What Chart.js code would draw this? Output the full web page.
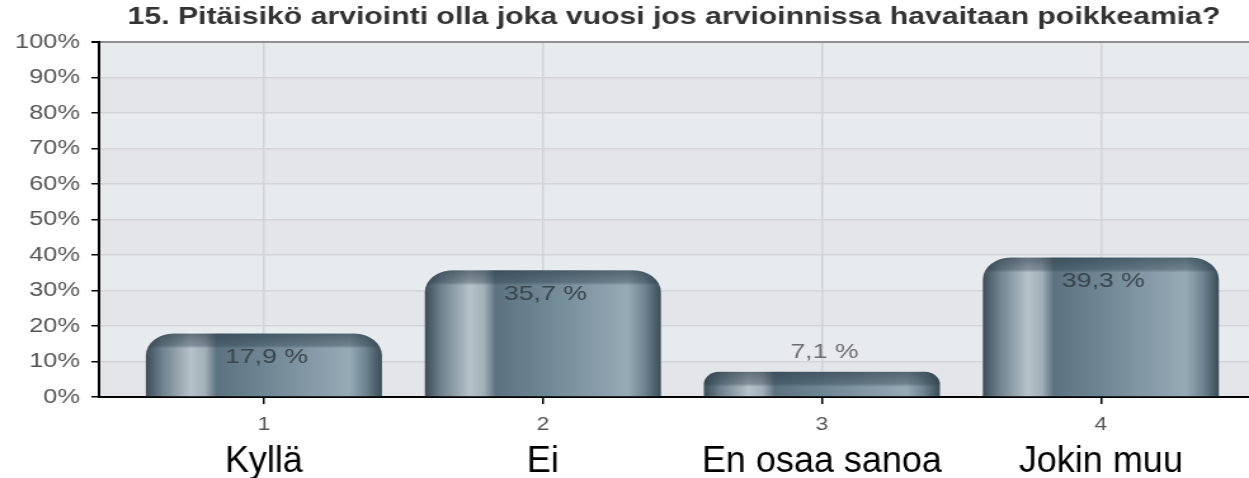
<!DOCTYPE html>
<html>
<head>
<meta charset="utf-8">
<script src="https://cdn.jsdelivr.net/npm/chart.js@4.4.1/dist/chart.umd.min.js"></script>
<style>
html, body { margin: 0; padding: 0; background: #fff; overflow: hidden; }
#wrap { width: 1249px; height: 478px; overflow: hidden; }
#chart { display: block; transform-origin: 0 0; }
</style>
</head>
<body>
<div id="wrap"><canvas id="chart" width="984" height="478"></canvas></div>
<script>
const chartTitle = '15. Pitäisikö arviointi olla joka vuosi jos arvioinnissa havaitaan poikkeamia?'
const categories = ['Kyllä', 'Ei', 'En osaa sanoa', 'Jokin muu']
const tickLabels = ['1', '2', '3', '4']
const values = [17.9, 35.7, 7.1, 39.3]

// the original picture is stretched sideways, so the canvas is too
const stretch = 1249 / 984
const canvas = document.getElementById('chart')
canvas.style.transform = 'scaleX(' + stretch + ')'

const catPct = 0.846
const font = '"Liberation Sans", Arial, sans-serif'

function barFill(context) {
    let chart = context.chart
    let x = chart.scales.x
    if (!chart.chartArea || !x) return '#6d8592'
    let center = x.getPixelForValue(context.dataIndex + 1)
    let half = (x.getPixelForValue(2) - x.getPixelForValue(1)) * catPct / 2
    let g = chart.ctx.createLinearGradient(center - half, 0, center + half, 0)
    g.addColorStop(0, '#3b4d59')
    g.addColorStop(0.07, '#6f828d')
    g.addColorStop(0.19, '#b7c2c9')
    g.addColorStop(0.25, '#a3b0b8')
    g.addColorStop(0.3, '#5c7280')
    g.addColorStop(0.5, '#6e8693')
    g.addColorStop(0.72, '#879ca8')
    g.addColorStop(0.86, '#96abb6')
    g.addColorStop(0.93, '#6f8591')
    g.addColorStop(1, '#3a4c58')
    return g
}

const plotBackground = {
    id: 'plotBackground',
    beforeDraw(chart) {
        let ctx = chart.ctx
        let area = chart.chartArea
        let y = chart.scales.y
        ctx.save()
        for (let v = 0; v < 100; v += 10) {
            let top = y.getPixelForValue(v + 10)
            let bottom = y.getPixelForValue(v)
            ctx.fillStyle = (v / 10) % 2 == 1 ? '#e8ebee' : '#e3e5e8'
            ctx.fillRect(area.left, top, area.right - area.left, bottom - top)
        }
        ctx.restore()
    }
}

const barDecor = {
    id: 'barDecor',
    afterDatasetsDraw(chart) {
        let ctx = chart.ctx
        let meta = chart.getDatasetMeta(0)
        meta.data.forEach((bar, i) => {
            let left = bar.x - bar.width / 2
            let h = bar.base - bar.y
            let r = Math.min(22, h / 2, bar.width / 2)
            ctx.save()
            ctx.beginPath()
            ctx.roundRect(left, bar.y, bar.width, h, [r, r, 0, 0])
            ctx.clip()
            let g = ctx.createLinearGradient(0, bar.y, 0, bar.y + 15)
            g.addColorStop(0, 'rgba(40,58,70,0.6)')
            g.addColorStop(0.8, 'rgba(40,58,70,0.35)')
            g.addColorStop(1, 'rgba(40,58,70,0)')
            ctx.fillStyle = g
            ctx.fillRect(left, bar.y, bar.width, 15)
            ctx.restore()

            let text = values[i].toFixed(1).replace('.', ',') + ' %'
            ctx.save()
            ctx.font = '21px ' + font
            ctx.textAlign = 'center'
            ctx.textBaseline = 'middle'
            if (h > 40) {
                ctx.fillStyle = '#3a454e'
                ctx.fillText(text, bar.x + 2, bar.y + 24)
            } else {
                ctx.fillStyle = '#6e6e6e'
                ctx.fillText(text, bar.x + 2, bar.y - 20)
            }
            ctx.restore()
        })
    },
    afterDraw(chart) {
        // answer names are not stretched in the original
        let ctx = chart.ctx
        let x = chart.scales.x
        let base = chart.chartArea.bottom
        ctx.save()
        ctx.font = '36px ' + font
        ctx.fillStyle = '#000'
        ctx.textAlign = 'center'
        ctx.textBaseline = 'alphabetic'
        categories.forEach((name, i) => {
            ctx.save()
            ctx.translate(x.getPixelForValue(i + 1), base + 75)
            ctx.scale(1 / stretch, 1)
            ctx.fillText(name, 0, 0)
            ctx.restore()
        })
        ctx.restore()
    }
}

let points = values.map((v, i) => ({ x: i + 1, y: v }))

let config = {
    type: 'bar',
    data: {
        datasets: [{
            data: points,
            backgroundColor: barFill,
            borderWidth: 0,
            borderRadius: { topLeft: 22, topRight: 22, bottomLeft: 0, bottomRight: 0 },
            borderSkipped: false,
            categoryPercentage: catPct,
            barPercentage: 1,
        }],
    },
    options: {
        responsive: false,
        animation: false,
        layout: { padding: 0 },
        plugins: {
            legend: { display: false },
            tooltip: { enabled: false },
            title: {
                display: true,
                text: chartTitle,
                fullSize: false,
                color: '#333',
                font: { family: font, size: 23.8, weight: 'bold', lineHeight: 1.2 },
                padding: { top: 3.5, bottom: 10 },
            },
        },
        scales: {
            x: {
                type: 'linear',
                offset: false,
                min: 0.409,
                max: 4.531,
                afterBuildTicks: (axis) => {
                    axis.ticks = tickLabels.map((t, i) => ({ value: i + 1 }))
                },
                afterFit: (axis) => { axis.height = 81 },
                ticks: {
                    callback: (value, index) => tickLabels[index],
                    color: '#555',
                    font: { family: font, size: 18 },
                    padding: 10,
                    maxRotation: 0,
                },
                grid: { offset: false, color: '#d2d4d6', lineWidth: 1.5, tickColor: '#000', tickLength: 7 },
                border: { color: '#000', width: 2 },
            },
            y: {
                min: 0,
                max: 100,
                afterFit: (axis) => { axis.width = 78 },
                ticks: {
                    stepSize: 10,
                    callback: (value) => value + '%',
                    color: '#555',
                    font: { family: font, size: 20 },
                    padding: 9,
                },
                grid: {
                    color: (c) => c.tick && c.tick.value == 100 ? '#8f8f8f' : '#d2d4d6',
                    lineWidth: (c) => c.tick && c.tick.value == 100 ? 2 : 1.5,
                    tickColor: '#000',
                    tickLength: 6,
                },
                border: { color: '#000', width: 2 },
            },
        },
    },
    plugins: [plotBackground, barDecor],
}

let myChart = new Chart(canvas.getContext('2d'), config)
</script>
</body>
</html>
